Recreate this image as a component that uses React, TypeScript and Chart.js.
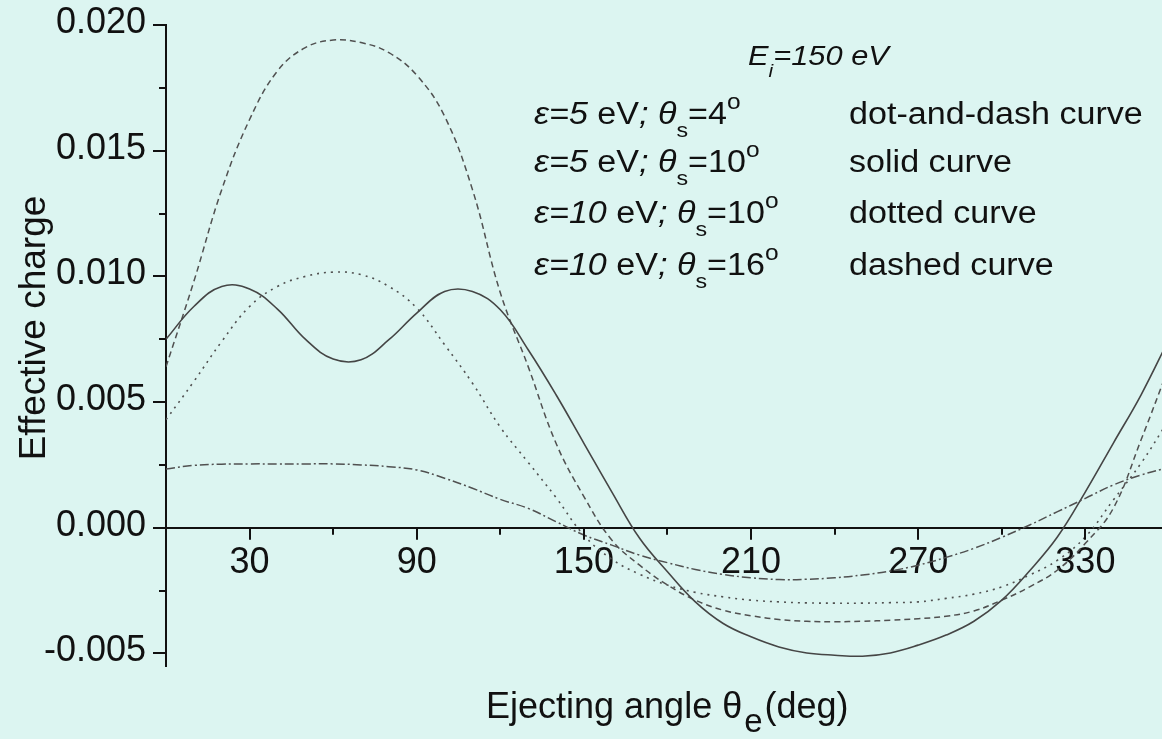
import React, { useEffect, useRef } from 'react';
import { Chart, registerables } from 'chart.js';

Chart.register(...registerables);

// ---- data ----
const angles = [0, 10, 20, 30, 40, 50, 60, 70, 80, 90, 100, 110, 120, 130, 140, 150, 160, 170, 180, 190, 200, 210, 220, 230, 240, 250, 260, 270, 280, 290, 300, 310, 320, 330, 340, 350, 360];

// eps=5 eV, theta_s=4 deg (dot-and-dash)
const dotDash = [0.00234, 0.00248, 0.00253, 0.00254, 0.00254, 0.00254, 0.00254, 0.0025, 0.00243, 0.0023, 0.00197, 0.00157, 0.00113, 0.00077, 0.00024, -0.00029, -0.00069, -0.00109, -0.00139, -0.00166, -0.00186, -0.00199, -0.00206, -0.00205, -0.00199, -0.00188, -0.00172, -0.00149, -0.00118, -0.00082, -0.00038, 0.00011, 0.00064, 0.00117, 0.0017, 0.0021, 0.0024];

// eps=5 eV, theta_s=10 deg (solid)
const solid = [0.0075, 0.0088, 0.0096, 0.0095, 0.0087, 0.0075, 0.00671, 0.00668, 0.00748, 0.00854, 0.0094, 0.0094, 0.00867, 0.00708, 0.00529, 0.00336, 0.00143, -0.00042, -0.00175, -0.00295, -0.00381, -0.00434, -0.00474, -0.00498, -0.00507, -0.00511, -0.00498, -0.00467, -0.00427, -0.00372, -0.00288, -0.00171, -0.00036, 0.00143, 0.00336, 0.00529, 0.0075];

// eps=10 eV, theta_s=10 deg (dotted)
const dotted = [0.0043, 0.00582, 0.00741, 0.0088, 0.0096, 0.01, 0.01017, 0.01007, 0.0096, 0.00874, 0.00728, 0.00575, 0.004, 0.0026, 0.0012, -0.0003, -0.00125, -0.00185, -0.00228, -0.00257, -0.00275, -0.00288, -0.00295, -0.00299, -0.003, -0.003, -0.00298, -0.00295, -0.00281, -0.00264, -0.00235, -0.00188, -0.00129, -0.00036, 0.0011, 0.00257, 0.0043];

// eps=10 eV, theta_s=16 deg (dashed)
const dashed = [0.0064, 0.0098, 0.01345, 0.01624, 0.01817, 0.0191, 0.0194, 0.0193, 0.0189, 0.018, 0.01637, 0.01345, 0.00935, 0.00641, 0.00336, 0.00124, -0.00049, -0.00149, -0.00228, -0.00288, -0.00328, -0.0035, -0.00365, -0.00372, -0.00374, -0.00372, -0.00368, -0.00362, -0.00352, -0.00331, -0.00288, -0.00235, -0.00168, -0.00062, 0.00077, 0.0035, 0.0064];

const xTickLabels = [30, 90, 150, 210, 270, 330];
const xMinorTicks = [60, 120, 180, 240, 300];
const yTickLabels = [-0.005, 0, 0.005, 0.01, 0.015, 0.02];
const yMinorTicks = [-0.0025, 0.0025, 0.0075, 0.0125, 0.0175];

const legendEps = ['5', '5', '10', '10'];
const legendTheta = ['4', '10', '10', '16'];
const legendDesc = ['dot-and-dash curve', 'solid curve', 'dotted curve', 'dashed curve'];

const BG = '#dcf5f1';
const INK = '#111111';
const LINE = '#505050';
const FONT = '"Liberation Sans", Arial, Helvetica, sans-serif';

type Seg = { t: string; it?: boolean; sub?: boolean; sup?: boolean };

function drawRich(ctx: CanvasRenderingContext2D, x: number, y: number, segs: Seg[], size: number, hs: number) {
  ctx.save();
  ctx.translate(x, y);
  ctx.scale(hs, 1);
  ctx.textAlign = 'left';
  ctx.textBaseline = 'alphabetic';
  ctx.fillStyle = INK;
  let cx = 0;
  for (const s of segs) {
    let fs = size;
    let dy = 0;
    if (s.sub) { fs = size * 0.68; dy = size * 0.42; }
    if (s.sup) { fs = size * 0.72; dy = -size * 0.48; }
    ctx.font = `${s.it ? 'italic ' : ''}${fs}px ${FONT}`;
    ctx.fillText(s.t, cx, dy);
    cx += ctx.measureText(s.t).width;
  }
  ctx.restore();
}

const decor = {
  id: 'decor',
  beforeDraw(chart: any) {
    const { ctx, width, height } = chart;
    ctx.save();
    ctx.fillStyle = BG;
    ctx.fillRect(0, 0, width, height);
    ctx.restore();
  },
  afterDraw(chart: any) {
    const { ctx, chartArea } = chart;
    const xs = chart.scales.x;
    const ys = chart.scales.y;
    const y0 = ys.getPixelForValue(0);
    const xl = chartArea.left;
    ctx.save();
    ctx.strokeStyle = INK;
    ctx.lineWidth = 2;
    ctx.beginPath();
    for (const v of xTickLabels) {
      const px = Math.round(xs.getPixelForValue(v));
      ctx.moveTo(px, y0); ctx.lineTo(px, y0 + 12);
    }
    for (const v of xMinorTicks) {
      const px = Math.round(xs.getPixelForValue(v));
      ctx.moveTo(px, y0); ctx.lineTo(px, y0 + 7);
    }
    for (const v of yTickLabels) {
      const py = Math.round(ys.getPixelForValue(v));
      ctx.moveTo(xl - 13, py); ctx.lineTo(xl, py);
    }
    for (const v of yMinorTicks) {
      const py = Math.round(ys.getPixelForValue(v));
      ctx.moveTo(xl - 7, py); ctx.lineTo(xl, py);
    }
    ctx.stroke();

    // axis titles
    ctx.fillStyle = INK;
    ctx.save();
    ctx.translate(45, 328);
    ctx.rotate(-Math.PI / 2);
    ctx.textAlign = 'center';
    ctx.textBaseline = 'alphabetic';
    ctx.font = `37px ${FONT}`;
    ctx.fillText('Effective charge', 0, 0);
    ctx.restore();

    ctx.textAlign = 'left';
    ctx.textBaseline = 'alphabetic';
    let tx = 486;
    ctx.font = `36px ${FONT}`;
    ctx.fillText('Ejecting angle θ', tx, 718);
    tx += ctx.measureText('Ejecting angle θ').width + 2;
    ctx.font = `33px ${FONT}`;
    ctx.fillText('e', tx, 732);
    tx += ctx.measureText('e').width + 2;
    ctx.font = `36px ${FONT}`;
    ctx.fillText('(deg)', tx, 718);

    // annotation block
    drawRich(ctx, 748, 65, [{ t: 'E', it: true }, { t: 'i', it: true, sub: true }, { t: '=150 eV', it: true }], 28, 1.1);
    const baselines = [124, 172, 223, 275];
    for (let i = 0; i < legendEps.length; i++) {
      drawRich(ctx, 534, baselines[i], [
        { t: 'ε=' + legendEps[i], it: true },
        { t: ' eV' },
        { t: '; ', it: true },
        { t: 'θ', it: true },
        { t: 's', sub: true },
        { t: '=' + legendTheta[i] },
        { t: 'o', sup: true },
      ], 31, 1.1);
      drawRich(ctx, 849, baselines[i], [{ t: legendDesc[i] }], 31, 1.1);
    }
    ctx.restore();
  },
};

export default function App() {
  const ref = useRef<HTMLCanvasElement | null>(null);
  useEffect(() => {
    document.body.style.margin = '0';
    document.body.style.background = BG;
    const canvas = ref.current;
    if (!canvas) return;
    const mk = (vals: number[]) => angles.map((a, i) => ({ x: a, y: vals[i] }));
    const chart = new Chart(canvas, {
      type: 'line',
      data: {
        datasets: [
          { label: 'dot-and-dash', data: mk(dotDash), borderColor: LINE, borderDash: [9, 3, 2, 3], borderWidth: 1.5 },
          { label: 'solid', data: mk(solid), borderColor: '#454545', borderWidth: 1.6 },
          { label: 'dotted', data: mk(dotted), borderColor: LINE, borderDash: [2, 5], borderWidth: 1.6 },
          { label: 'dashed', data: mk(dashed), borderColor: LINE, borderDash: [6, 4], borderWidth: 1.5 },
        ],
      },
      options: {
        responsive: false,
        animation: false,
        events: [],
        layout: { padding: { top: 25, bottom: 73, left: 0, right: 0 } },
        elements: { point: { radius: 0 }, line: { tension: 0.4, fill: false } },
        plugins: { legend: { display: false }, tooltip: { enabled: false }, title: { display: false } },
        scales: {
          x: {
            type: 'linear',
            min: 0,
            max: 357.5,
            position: { y: 0 } as any,
            grid: { display: false, drawTicks: false },
            border: { display: true, color: INK, width: 2 },
            afterBuildTicks: (s: any) => { s.ticks = xTickLabels.map((v) => ({ value: v })); },
            afterFit: (s: any) => { s.paddingLeft = 0; s.paddingRight = 0; },
            ticks: {
              autoSkip: false,
              maxRotation: 0,
              minRotation: 0,
              padding: 14,
              color: INK,
              font: { family: FONT, size: 36 },
              callback: (v: any) => String(v),
            },
          },
          y: {
            type: 'linear',
            min: -0.0055,
            max: 0.02,
            afterFit: (s: any) => { s.width = 166; s.paddingTop = 0; s.paddingBottom = 0; },
            grid: { display: false, drawTicks: false },
            border: { display: true, color: INK, width: 2 },
            afterBuildTicks: (s: any) => { s.ticks = yTickLabels.map((v) => ({ value: v })); },
            ticks: {
              autoSkip: false,
              padding: 20,
              labelOffset: -2,
              color: INK,
              font: { family: FONT, size: 36 },
              callback: (v: any) => Number(v).toFixed(3),
            },
          },
        },
      },
      plugins: [decor],
    });
    return () => chart.destroy();
  }, []);
  return (
    <div style={{ width: 1162, height: 739 }}>
      <canvas ref={ref} width={1162} height={739} style={{ display: 'block' }} />
    </div>
  );
}
